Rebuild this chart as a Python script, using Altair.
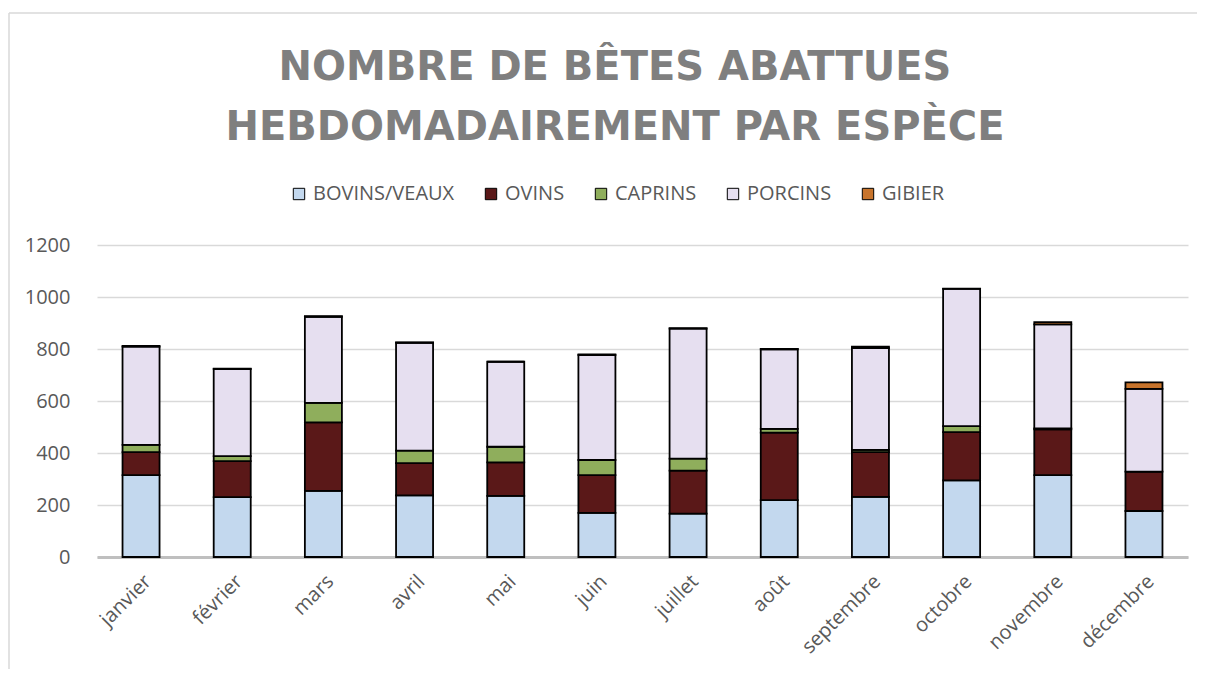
import altair as alt
import pandas as pd

title_lines = ["NOMBRE DE BÊTES ABATTUES", "HEBDOMADAIREMENT PAR ESPÈCE"]
months = ["janvier", "février", "mars", "avril", "mai", "juin", "juillet",
          "août", "septembre", "octobre", "novembre", "décembre"]
species = ["BOVINS/VEAUX", "OVINS", "CAPRINS", "PORCINS", "GIBIER"]
bovins = [315, 230, 254, 237, 235, 170, 167, 219, 231, 295, 315, 177]
ovins = [88, 139, 264, 124, 129, 145, 165, 259, 172, 185, 176, 151]
caprins = [28, 19, 75, 48, 60, 58, 46, 15, 9, 23, 4, 0]
porcins = [378, 335, 331, 415, 327, 404, 500, 306, 391, 528, 400, 319]
gibier = [3, 1, 2, 1, 0, 2, 2, 1, 6, 1, 8, 25]
y_ticks = [0, 200, 400, 600, 800, 1000, 1200]
colors = ["#C3D8EE", "#5A1818", "#8FAE5C", "#E6DFF0", "#C8742C"]

series = [bovins, ovins, caprins, porcins, gibier]
rows = []
for si, (name, vals) in enumerate(zip(species, series)):
    for m, v in zip(months, vals):
        rows.append({"mois": m, "espece": name, "ordre": si, "valeur": v})
df = pd.DataFrame(rows)

W, H = 1091, 312
PL, PT, PR, PB = 89, 237, 9, 112

bars = alt.Chart(df).mark_bar(stroke="black", strokeWidth=1.8).encode(
    x=alt.X("mois:N", sort=months,
            scale=alt.Scale(paddingInner=0.594, paddingOuter=0.28),
            axis=alt.Axis(title=None, labelAngle=-45, labelFontSize=20,
                          labelFont="Open Sans", labelColor="#595959",
                          ticks=False, domainColor="#BFBFBF", domainWidth=3,
                          labelPadding=14)),
    y=alt.Y("valeur:Q", stack="zero",
            scale=alt.Scale(domain=[0, 1200], nice=False),
            axis=alt.Axis(title=None, values=y_ticks, grid=True, format="d",
                          gridColor="#D9D9D9", gridWidth=1.5, domain=False,
                          ticks=False, labelFontSize=20, labelFont="Open Sans",
                          labelColor="#595959", labelPadding=27)),
    color=alt.Color("espece:N", sort=species,
                    scale=alt.Scale(domain=species, range=colors),
                    legend=alt.Legend(orient="none", legendX=192, legendY=-61,
                                      direction="horizontal", title=None,
                                      symbolType="square", symbolSize=130,
                                      symbolStrokeColor="black",
                                      symbolStrokeWidth=1,
                                      labelFontSize=20, labelFont="Open Sans",
                                      labelColor="#595959", columnPadding=26)),
    order=alt.Order("ordre:Q", sort="ascending"),
)

one = alt.Data(values=[{"a": 1}])
frame_top = alt.Chart(one).mark_rule(color="#D9D9D9", strokeWidth=1.5).encode(
    x=alt.value(-88), x2=alt.value(W + PR), y=alt.value(-232))
frame_left = alt.Chart(one).mark_rule(color="#D9D9D9", strokeWidth=1.5).encode(
    x=alt.value(-88), y=alt.value(-232), y2=alt.value(H + PB))

title = alt.Chart(one).mark_text(
    font="DejaVu Sans", fontWeight="bold", fontSize=40, color="#7F7F7F",
    align="center", baseline="alphabetic", lineHeight=60,
).encode(x=alt.value(518), y=alt.value(-165), text=alt.value(title_lines))

chart = alt.layer(frame_top, frame_left, title, bars).properties(
    width=W, height=H,
    autosize=alt.AutoSizeParams(type="none"),
    padding={"left": PL, "top": PT, "right": PR, "bottom": PB},
).configure_view(stroke=None)

chart.save("out.html", embed_options={"renderer": "svg", "actions": False})
